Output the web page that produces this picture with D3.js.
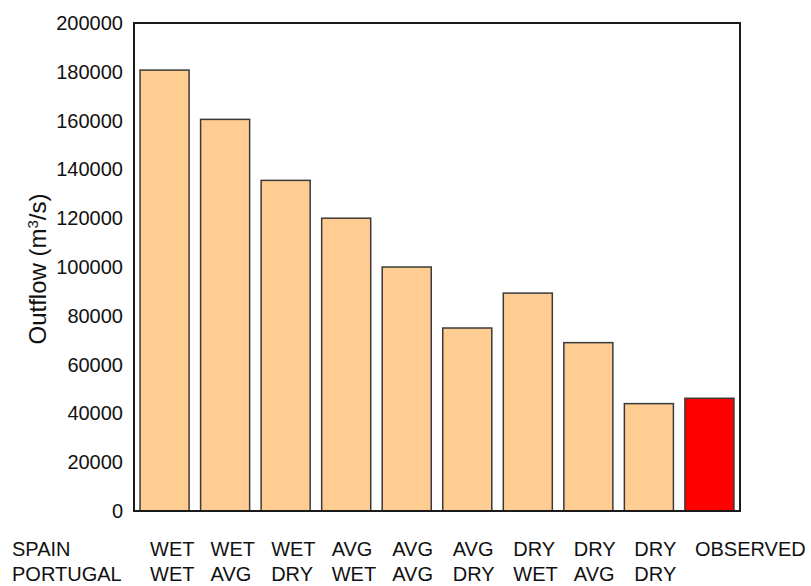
<!DOCTYPE html>
<html>
<head>
<meta charset="utf-8">
<script src="https://cdn.jsdelivr.net/npm/d3@7"></script>
<style>
  body { margin: 0; background: #fff; }
  text { font-family: "Liberation Sans", Arial, sans-serif; fill: #111; }
</style>
</head>
<body>
<svg id="chart"></svg>
<script>
// scenario labels (two rows under the bars)
const spain    = ["WET", "WET", "WET", "AVG", "AVG", "AVG", "DRY", "DRY", "DRY", "OBSERVED"];
const portugal = ["WET", "AVG", "DRY", "WET", "AVG", "DRY", "WET", "AVG", "DRY", ""];
// outflow values in m3/s
const outflow  = [180700, 160500, 135500, 120000, 100000, 75000, 89300, 69000, 44000, 46200];
const yTicks   = [0, 20000, 40000, 60000, 80000, 100000, 120000, 140000, 160000, 180000, 200000];

const W = 811, H = 586;
const margin = { top: 23, right: 71, bottom: 75, left: 134 };
const iw = W - margin.left - margin.right;
const ih = H - margin.top - margin.bottom;

const svg = d3.select("#chart").attr("width", W).attr("height", H);
const g = svg.append("g").attr("transform", `translate(${margin.left},${margin.top})`);

const x = d3.scaleBand()
    .domain(d3.range(outflow.length))
    .range([0, iw])
    .paddingInner(0.19)
    .paddingOuter(0.1);

const y = d3.scaleLinear().domain([0, 200000]).range([ih, 0]);

// y axis, no tick marks
const yAxis = g.append("g")
    .call(d3.axisLeft(y).tickValues(yTicks).tickSize(0).tickPadding(11).tickFormat(d3.format("d")));
yAxis.select(".domain").remove();
yAxis.selectAll("text")
    .style("font-size", "20px")
    .style("font-family", "'Liberation Sans', Arial, sans-serif")
    .attr("fill", "#111");

// bars
g.append("g")
  .selectAll("rect")
  .data(outflow)
  .join("rect")
    .attr("x", (d, i) => x(i))
    .attr("y", d => y(d))
    .attr("width", x.bandwidth())
    .attr("height", d => ih - y(d))
    .attr("fill", (d, i) => i === outflow.length - 1 ? "#ff0000" : "#ffcc92")
    .attr("stroke", "#3a3a3a")
    .attr("stroke-width", 1.5);

// frame
g.append("rect")
    .attr("width", iw)
    .attr("height", ih)
    .attr("fill", "none")
    .attr("stroke", "#1a1a1a")
    .attr("stroke-width", 2);

// y title
svg.append("text")
    .attr("transform", `translate(46,${margin.top + ih / 2 + 2}) rotate(-90)`)
    .attr("text-anchor", "middle")
    .style("font-size", "24px")
    .text("Outflow (m")
  .append("tspan")
    .attr("baseline-shift", "super")
    .style("font-size", "15px")
    .text("3")
  .select(function() { return this.parentNode; })
  .append("tspan")
    .text("/s)");

// scenario rows
const rows = [["SPAIN", spain, 556], ["PORTUGAL", portugal, 581]];
rows.forEach(([name, labels, yy]) => {
  svg.append("text").attr("x", 12).attr("y", yy).style("font-size", "20px").text(name);
  svg.append("g")
    .selectAll("text")
    .data(labels)
    .join("text")
      .attr("x", (d, i) => margin.left + x(i) + 10)
      .attr("y", yy)
      .style("font-size", "20px")
      .text(d => d);
});
</script>
</body>
</html>
